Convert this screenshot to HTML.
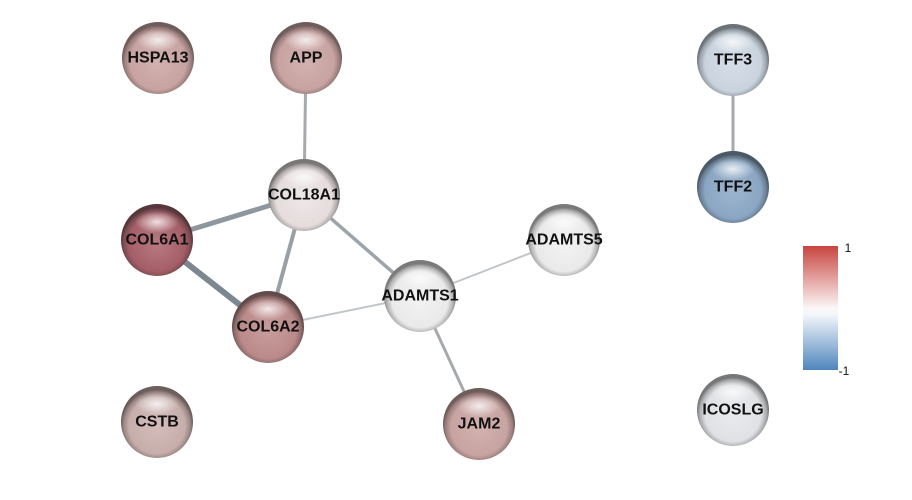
<!DOCTYPE html>
<html><head><style>
body{margin:0;background:#fff;}
text{font-family:"Liberation Sans",Arial,sans-serif;font-weight:bold;font-size:16px;fill:#111;text-anchor:middle;dominant-baseline:central;}
</style></head><body>
<svg width="912" height="495" xmlns="http://www.w3.org/2000/svg">
<defs>
<linearGradient id="cb" x1="0" y1="0" x2="0" y2="1">
<stop offset="0" stop-color="#c8453f"/><stop offset="0.5" stop-color="#fbf6f6"/><stop offset="0.55" stop-color="#f4f7fb"/><stop offset="1" stop-color="#4f86bd"/>
</linearGradient>
<radialGradient id="hl" cx="0.5" cy="0.5" r="0.5">
<stop offset="0" stop-color="#fff" stop-opacity="0.8"/><stop offset="1" stop-color="#fff" stop-opacity="0"/>
</radialGradient>
<radialGradient id="gA" cx="0.5" cy="0.55" r="0.5"><stop offset="0" stop-color="#d2b2b0"/><stop offset="0.78" stop-color="#c7a3a1"/><stop offset="0.93" stop-color="#9a7e7d"/><stop offset="1" stop-color="#6f5d5c"/></radialGradient>
<radialGradient id="gB" cx="0.5" cy="0.55" r="0.5"><stop offset="0" stop-color="#d6dee8"/><stop offset="0.78" stop-color="#c9d3de"/><stop offset="0.93" stop-color="#9aa2aa"/><stop offset="1" stop-color="#6d7278"/></radialGradient>
<radialGradient id="gC" cx="0.5" cy="0.55" r="0.5"><stop offset="0" stop-color="#eee8e8"/><stop offset="0.78" stop-color="#e5dcdc"/><stop offset="0.93" stop-color="#aea8a8"/><stop offset="1" stop-color="#7a7676"/></radialGradient>
<radialGradient id="gD" cx="0.5" cy="0.55" r="0.5"><stop offset="0" stop-color="#b87a82"/><stop offset="0.78" stop-color="#a55e68"/><stop offset="0.93" stop-color="#7c4c52"/><stop offset="1" stop-color="#57373b"/></radialGradient>
<radialGradient id="gE" cx="0.5" cy="0.55" r="0.5"><stop offset="0" stop-color="#f3f3f3"/><stop offset="0.78" stop-color="#e9e9e9"/><stop offset="0.93" stop-color="#b0b0b0"/><stop offset="1" stop-color="#7a7a7a"/></radialGradient>
<radialGradient id="gF" cx="0.5" cy="0.55" r="0.5"><stop offset="0" stop-color="#9db5ce"/><stop offset="0.78" stop-color="#8aa6c3"/><stop offset="0.93" stop-color="#6a7e92"/><stop offset="1" stop-color="#4b5967"/></radialGradient>
<radialGradient id="gG" cx="0.5" cy="0.55" r="0.5"><stop offset="0" stop-color="#c89d9d"/><stop offset="0.78" stop-color="#bb8a8a"/><stop offset="0.93" stop-color="#8e6a6a"/><stop offset="1" stop-color="#644b4b"/></radialGradient>
<radialGradient id="gH" cx="0.5" cy="0.55" r="0.5"><stop offset="0" stop-color="#d3bdba"/><stop offset="0.78" stop-color="#c7aeab"/><stop offset="0.93" stop-color="#988583"/><stop offset="1" stop-color="#6b5e5c"/></radialGradient>
<radialGradient id="gI" cx="0.5" cy="0.55" r="0.5"><stop offset="0" stop-color="#eaebee"/><stop offset="0.78" stop-color="#dfe1e4"/><stop offset="0.93" stop-color="#a8aaac"/><stop offset="1" stop-color="#767779"/></radialGradient>
</defs>
<g stroke-linecap="round">
<line x1="306" y1="58" x2="304" y2="195" stroke="#a6aaad" stroke-width="3"/>
<line x1="733" y1="60" x2="733" y2="187" stroke="#a6aaad" stroke-width="3"/>
<line x1="157" y1="240" x2="304" y2="195" stroke="#8e979d" stroke-width="5"/>
<line x1="157" y1="240" x2="268" y2="327" stroke="#7d878f" stroke-width="6"/>
<line x1="304" y1="195" x2="268" y2="327" stroke="#98a0a6" stroke-width="4"/>
<line x1="304" y1="195" x2="420" y2="296" stroke="#9ea5aa" stroke-width="3.5"/>
<line x1="268" y1="327" x2="420" y2="296" stroke="#c2c6c9" stroke-width="2"/>
<line x1="420" y1="296" x2="564" y2="240" stroke="#c2c6c9" stroke-width="2"/>
<line x1="420" y1="296" x2="479" y2="424" stroke="#a6aaad" stroke-width="3"/>
</g>

<circle cx="158" cy="58" r="36" fill="url(#gA)"/><ellipse cx="158" cy="40" rx="22" ry="11" fill="url(#hl)"/><text x="158" y="58">HSPA13</text>
<circle cx="306" cy="58" r="36" fill="url(#gA)"/><ellipse cx="306" cy="40" rx="22" ry="11" fill="url(#hl)"/><text x="306" y="58">APP</text>
<circle cx="733" cy="60" r="36" fill="url(#gB)"/><ellipse cx="733" cy="42" rx="22" ry="11" fill="url(#hl)"/><text x="733" y="60">TFF3</text>
<circle cx="304" cy="195" r="36" fill="url(#gC)"/><ellipse cx="304" cy="177" rx="22" ry="11" fill="url(#hl)"/><text x="304" y="195">COL18A1</text>
<circle cx="157" cy="240" r="36" fill="url(#gD)"/><ellipse cx="157" cy="222" rx="22" ry="11" fill="url(#hl)"/><text x="157" y="240">COL6A1</text>
<circle cx="564" cy="240" r="36" fill="url(#gE)"/><ellipse cx="564" cy="222" rx="22" ry="11" fill="url(#hl)"/><text x="564" y="240">ADAMTS5</text>
<circle cx="733" cy="187" r="36" fill="url(#gF)"/><ellipse cx="733" cy="169" rx="22" ry="11" fill="url(#hl)"/><text x="733" y="187">TFF2</text>
<circle cx="420" cy="296" r="36" fill="url(#gE)"/><ellipse cx="420" cy="278" rx="22" ry="11" fill="url(#hl)"/><text x="420" y="296">ADAMTS1</text>
<circle cx="268" cy="327" r="36" fill="url(#gG)"/><ellipse cx="268" cy="309" rx="22" ry="11" fill="url(#hl)"/><text x="268" y="327">COL6A2</text>
<circle cx="157" cy="422" r="36" fill="url(#gH)"/><ellipse cx="157" cy="404" rx="22" ry="11" fill="url(#hl)"/><text x="157" y="422">CSTB</text>
<circle cx="479" cy="424" r="36" fill="url(#gA)"/><ellipse cx="479" cy="406" rx="22" ry="11" fill="url(#hl)"/><text x="479" y="424">JAM2</text>
<circle cx="733" cy="410" r="36" fill="url(#gI)"/><ellipse cx="733" cy="392" rx="22" ry="11" fill="url(#hl)"/><text x="733" y="410">ICOSLG</text>

<rect x="803" y="246" width="35" height="124" fill="url(#cb)"/>
<text x="848" y="248" style="font-size:12px;font-weight:normal">1</text>
<text x="844" y="371" style="font-size:12px;font-weight:normal">-1</text>
</svg>
</body></html>
